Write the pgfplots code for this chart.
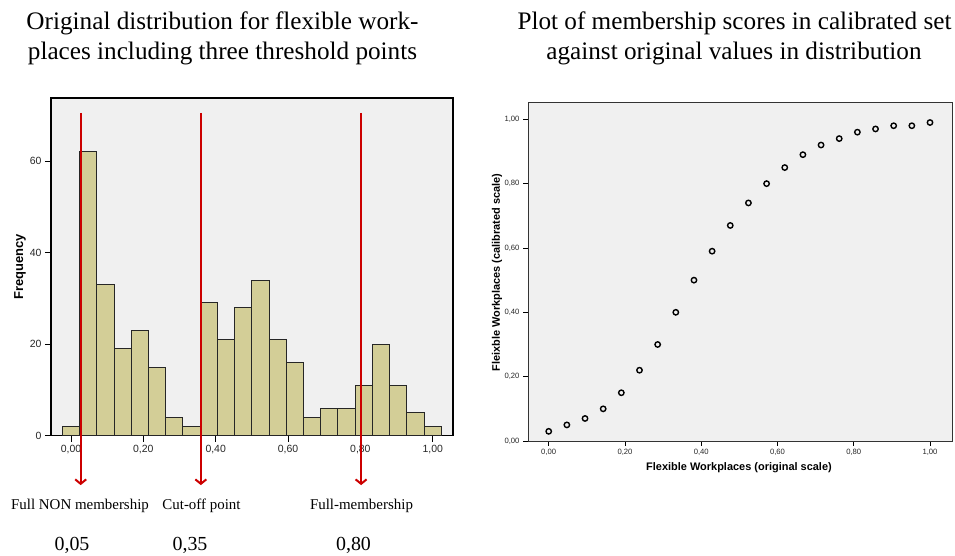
\documentclass[border=0pt]{standalone}
\usepackage{fontspec}
\setmainfont{Liberation Serif}
\setsansfont{Liberation Sans}
\usepackage{pgfplots}
\pgfplotsset{compat=1.18}
\usetikzlibrary{arrows.meta}
\definecolor{bgc}{RGB}{240,240,240}
\definecolor{barc}{RGB}{211,206,151}
\definecolor{arrowred}{RGB}{204,0,0}
\begin{document}
\begin{tikzpicture}
\path[use as bounding box] (0bp,0bp) rectangle (955bp,556bp);
% titles
\node[font=\fontsize{25.3}{30}\selectfont, anchor=base, inner sep=0pt] at (222.5bp,526bp) {Original distribution for flexible work-};
\node[font=\fontsize{25.3}{30}\selectfont, anchor=base, inner sep=0pt] at (222.5bp,496bp) {places including three threshold points};
\node[font=\fontsize{25.3}{30}\selectfont, anchor=base, inner sep=0pt] at (734.5bp,526bp) {Plot of membership scores in calibrated set};
\node[font=\fontsize{25.3}{30}\selectfont, anchor=base, inner sep=0pt] at (734bp,496bp) {against original values in distribution};
% threshold labels
\node[font=\fontsize{15}{18}\selectfont, anchor=base, inner sep=0pt] at (80bp,46bp) {Full NON membership};
\node[font=\fontsize{15}{18}\selectfont, anchor=base, inner sep=0pt] at (201.5bp,46bp) {Cut-off point};
\node[font=\fontsize{15}{18}\selectfont, anchor=base, inner sep=0pt] at (361.5bp,46bp) {Full-membership};
\node[font=\fontsize{20}{24}\selectfont, anchor=base, inner sep=0pt] at (72bp,5.3bp) {0,05};
\node[font=\fontsize{20}{24}\selectfont, anchor=base, inner sep=0pt] at (190bp,5.3bp) {0,35};
\node[font=\fontsize{20}{24}\selectfont, anchor=base, inner sep=0pt] at (353.5bp,5.3bp) {0,80};

% ---------- left: histogram ----------
\begin{axis}[
  at={(51bp,120.3bp)}, anchor=south west,
  scale only axis, width=402bp, height=337.7bp,
  xmin=-0.0553, xmax=1.0561, ymin=0, ymax=73.77,
  axis background/.style={fill=bgc},
  axis line style={line width=1.2bp, black},
  xtick={0,0.2,0.4,0.6,0.8,1},
  xticklabels={{0,00},{0,20},{0,40},{0,60},{0,80},{1,00}},
  ytick={0,20,40,60},
  yticklabels={0,20,40,60},
  tick align=outside, major tick length=6bp,
  xtick pos=bottom, ytick pos=left,
  tick style={black, line width=0.8bp},
  tick label style={font=\sffamily\fontsize{10.5}{12}\selectfont, text=black!85},
  ylabel={Frequency},
  ylabel style={font=\sffamily\bfseries\fontsize{13}{15}\selectfont, at={(axis description cs:-0.0771,0.5)}, anchor=center, rotate=0},
  clip=false,
]
\addplot[ybar, bar width=0.047619, bar shift=0pt, fill=barc, draw=black!85, line width=1bp]
coordinates {
(0.000000,2) (0.047619,62) (0.095238,33) (0.142857,19) (0.190476,23)
(0.238095,15) (0.285714,4) (0.333333,2) (0.380952,29) (0.428571,21)
(0.476190,28) (0.523810,34) (0.571429,21) (0.619048,16) (0.666667,4)
(0.714286,6) (0.761905,6) (0.809524,11) (0.857143,20) (0.904762,11)
(0.952381,5) (1.000000,2)
};
\draw[arrowred, line width=2bp, -{Straight Barb[length=4.5bp, width=11bp]}] (axis cs:0.0268,70.5) -- (axis cs:0.0268,-10.8);
\draw[arrowred, line width=2bp, -{Straight Barb[length=4.5bp, width=11bp]}] (axis cs:0.359,70.5) -- (axis cs:0.359,-10.8);
\draw[arrowred, line width=2bp, -{Straight Barb[length=4.5bp, width=11bp]}] (axis cs:0.802,70.5) -- (axis cs:0.802,-10.8);
\end{axis}

% ---------- right: scatter ----------
\begin{axis}[
  at={(528bp,115bp)}, anchor=south west,
  scale only axis, width=424bp, height=338.3bp,
  xmin=-0.0543, xmax=1.0577, ymin=0, ymax=1.0516,
  axis background/.style={fill=bgc},
  axis line style={line width=0.9bp, black!80},
  xtick={0,0.2,0.4,0.6,0.8,1},
  xticklabels={{0,00},{0,20},{0,40},{0,60},{0,80},{1,00}},
  ytick={0,0.2,0.4,0.6,0.8,1},
  yticklabels={{0,00},{0,20},{0,40},{0,60},{0,80},{1,00}},
  tick align=outside, major tick length=5bp,
  xtick pos=bottom, ytick pos=left,
  tick style={black, line width=0.7bp},
  tick label style={font=\sffamily\fontsize{7.7}{9}\selectfont, text=black!85},
  xlabel={Flexible Workplaces (original scale)},
  xlabel style={font=\sffamily\bfseries\fontsize{11}{13}\selectfont, at={(axis description cs:0.4976,-0.0878)}, anchor=base},
  ylabel={Fleixble Workplaces (calibrated scale)},
  ylabel style={font=\sffamily\bfseries\fontsize{11}{13}\selectfont, at={(axis description cs:-0.0731,0.498)}, anchor=center},
  clip=false,
]
\addplot[only marks, mark=o, mark size=2.7bp, mark options={line width=1.4bp, draw=black}]
coordinates {
(0.000000,0.03) (0.047619,0.05) (0.095238,0.07) (0.142857,0.10) (0.190476,0.15)
(0.238095,0.22) (0.285714,0.30) (0.333333,0.40) (0.380952,0.50) (0.428571,0.59)
(0.476190,0.67) (0.523810,0.74) (0.571429,0.80) (0.619048,0.85) (0.666667,0.89)
(0.714286,0.92) (0.761905,0.94) (0.809524,0.96) (0.857143,0.97) (0.904762,0.98)
(0.952381,0.98) (1.000000,0.99)
};
\end{axis}
\end{tikzpicture}
\end{document}
